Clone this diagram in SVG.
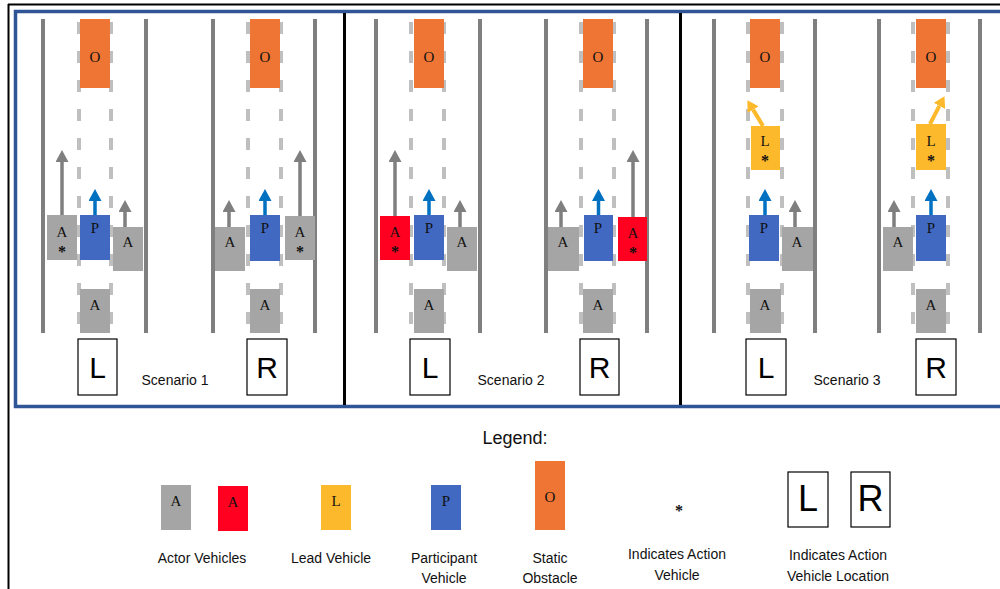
<svg xmlns="http://www.w3.org/2000/svg" width="1000" height="589" viewBox="0 0 1000 589">
<style>
.road{stroke:#7F7F7F;stroke-width:4}
.lane{stroke:#BFBFBF;stroke-width:4;stroke-dasharray:12 17}
.g{fill:#A5A5A5}
.r{fill:#FF0020}
.b{fill:#4169C1}
.o{fill:#EE7534}
.y{fill:#FDB92C}
.vt{font-family:"Liberation Serif",serif;font-size:15px;text-anchor:middle;fill:#111}
.st{font-family:"Liberation Serif",serif;font-size:16px;font-weight:bold;text-anchor:middle;fill:#111}
.ga{stroke:#7F7F7F;stroke-width:3.5;marker-end:url(#gh)}
.ba{stroke:#0070C0;stroke-width:3.5;marker-end:url(#bh)}
.ya{stroke:#FDB92C;stroke-width:4;marker-end:url(#yh)}
.box{fill:#fff;stroke:#000;stroke-width:1.2}
.big{font-family:"Liberation Sans",sans-serif;font-size:30px;text-anchor:middle;fill:#000}
.big2{font-family:"Liberation Sans",sans-serif;font-size:36px;text-anchor:middle;fill:#000}
.lbl{font-family:"Liberation Sans",sans-serif;font-size:14px;text-anchor:middle;fill:#111}
</style>
<defs>
<marker id="gh" markerUnits="userSpaceOnUse" markerWidth="12" markerHeight="13" refX="0" refY="6.5" orient="auto"><path d="M0,0 L12,6.5 L0,13 z" fill="#7F7F7F"/></marker>
<marker id="bh" markerUnits="userSpaceOnUse" markerWidth="12" markerHeight="13" refX="0" refY="6.5" orient="auto"><path d="M0,0 L12,6.5 L0,13 z" fill="#0070C0"/></marker>
<marker id="yh" markerUnits="userSpaceOnUse" markerWidth="11" markerHeight="13" refX="0" refY="6.5" orient="auto"><path d="M0,0 L11,6.5 L0,13 z" fill="#FDB92C"/></marker>
</defs>
<rect width="1000" height="589" fill="#fff"/>
<g id="frames">
<line x1="8" y1="4.5" x2="1000" y2="4.5" stroke="#000" stroke-width="2"/>
<line x1="8.5" y1="4" x2="8.5" y2="589" stroke="#000" stroke-width="2"/>
<rect x="15.5" y="11.5" width="1000" height="395" fill="none" stroke="#2F5597" stroke-width="3.5"/>
<line x1="344.5" y1="13" x2="344.5" y2="405" stroke="#000" stroke-width="3"/>
<line x1="680.5" y1="13" x2="680.5" y2="405" stroke="#000" stroke-width="3"/>
</g>
<g id="roads">
<path class="road" d="M43,19V333M146,19V333M213,19V333M315,19V333M376,19V333M480,19V333M546,19V333M647,19V333M714,19V333M815,19V333M879,19V333M980,19V333"/>
<path class="lane" d="M79,22V333M111,22V333M248,22V333M281,22V333M411,22V333M444,22V333M581,22V333M614,22V333M748,22V333M782,22V333M913,22V333M948,22V333"/>
</g>
<g id="s1-left">
<rect class="o" x="80" y="19" width="30" height="69"/><text class="vt" x="95" y="62">O</text>
<rect class="g" x="47" y="215" width="30" height="45"/><text class="vt" x="62" y="237">A</text><text class="st" x="62" y="257">*</text>
<rect class="b" x="80" y="215" width="30" height="45"/><text class="vt" x="95" y="233">P</text>
<rect class="g" x="113" y="227" width="30" height="44"/><text class="vt" x="128" y="247">A</text>
<rect class="g" x="80" y="289" width="30" height="44"/><text class="vt" x="95" y="310">A</text>
</g>
<g id="s1-right">
<rect class="o" x="250" y="19" width="30" height="69"/><text class="vt" x="265" y="62">O</text>
<rect class="g" x="215" y="227" width="30" height="44"/><text class="vt" x="230" y="247">A</text>
<rect class="b" x="250" y="215" width="30" height="46"/><text class="vt" x="265" y="233">P</text>
<rect class="g" x="285" y="216" width="30" height="44"/><text class="vt" x="300" y="237">A</text><text class="st" x="300" y="257">*</text>
<rect class="g" x="250" y="289" width="30" height="44"/><text class="vt" x="265" y="310">A</text>
</g>
<g id="s2-left">
<rect class="o" x="414" y="19" width="30" height="69"/><text class="vt" x="429" y="62">O</text>
<rect class="r" x="380" y="216" width="30" height="44"/><text class="vt" x="395" y="237">A</text><text class="st" x="395" y="257">*</text>
<rect class="b" x="414" y="215" width="30" height="45"/><text class="vt" x="429" y="233">P</text>
<rect class="g" x="447" y="227" width="30" height="44"/><text class="vt" x="462" y="247">A</text>
<rect class="g" x="414" y="289" width="30" height="44"/><text class="vt" x="429" y="310">A</text>
</g>
<g id="s2-right">
<rect class="o" x="583" y="19" width="30" height="69"/><text class="vt" x="598" y="62">O</text>
<rect class="g" x="548" y="227" width="31" height="44"/><text class="vt" x="563" y="247">A</text>
<rect class="b" x="584" y="215" width="29" height="46"/><text class="vt" x="598" y="233">P</text>
<rect class="r" x="618" y="217" width="29" height="44"/><text class="vt" x="633" y="238">A</text><text class="st" x="633" y="258">*</text>
<rect class="g" x="583" y="289" width="30" height="44"/><text class="vt" x="598" y="310">A</text>
</g>
<g id="s3-left">
<rect class="o" x="750" y="19" width="30" height="69"/><text class="vt" x="765" y="62">O</text>
<rect class="y" x="751" y="126" width="29" height="44"/><text class="vt" x="765" y="146">L</text><text class="st" x="765" y="166">*</text>
<rect class="b" x="749" y="215" width="30" height="46"/><text class="vt" x="764" y="233">P</text>
<rect class="g" x="782" y="227" width="31" height="44"/><text class="vt" x="797" y="247">A</text>
<rect class="g" x="750" y="289" width="31" height="44"/><text class="vt" x="765" y="310">A</text>
</g>
<g id="s3-right">
<rect class="o" x="916" y="19" width="30" height="69"/><text class="vt" x="931" y="62">O</text>
<rect class="y" x="916" y="124" width="30" height="46"/><text class="vt" x="931" y="146">L</text><text class="st" x="931" y="166">*</text>
<rect class="g" x="883" y="227" width="30" height="44"/><text class="vt" x="898" y="247">A</text>
<rect class="b" x="916" y="215" width="30" height="46"/><text class="vt" x="931" y="233">P</text>
<rect class="g" x="916" y="289" width="30" height="44"/><text class="vt" x="931" y="310">A</text>
</g>
<g id="connectors">
<line class="ga" x1="62" y1="215" x2="62" y2="162"/>
<line class="ba" x1="95" y1="215" x2="95" y2="201"/>
<line class="ga" x1="125" y1="227" x2="125" y2="212"/>
<line class="ga" x1="229" y1="227" x2="229" y2="212"/>
<line class="ba" x1="265" y1="215" x2="265" y2="201"/>
<line class="ga" x1="300" y1="216" x2="300" y2="162"/>
<line class="ga" x1="395" y1="216" x2="395" y2="162"/>
<line class="ba" x1="429" y1="215" x2="429" y2="201"/>
<line class="ga" x1="460" y1="227" x2="460" y2="212"/>
<line class="ga" x1="561" y1="227" x2="561" y2="212"/>
<line class="ba" x1="598.5" y1="215" x2="598.5" y2="201"/>
<line class="ga" x1="633" y1="217" x2="633" y2="162"/>
<line class="ya" x1="763" y1="126" x2="753.1" y2="109.6"/>
<line class="ba" x1="765" y1="215" x2="765" y2="201"/>
<line class="ga" x1="795" y1="227" x2="795" y2="212"/>
<line class="ya" x1="930" y1="124" x2="939.4" y2="105.9"/>
<line class="ga" x1="894" y1="227" x2="894" y2="212"/>
<line class="ba" x1="931" y1="215" x2="931" y2="201"/>
</g>
<g id="s1-labels">
<rect class="box" x="78" y="339" width="39" height="56"/><text class="big" x="97.5" y="378">L</text>
<rect class="box" x="247" y="339" width="40" height="56"/><text class="big" x="267" y="378">R</text>
<text class="lbl" x="175" y="385">Scenario 1</text>
</g>
<g id="s2-labels">
<rect class="box" x="410" y="339" width="40" height="56"/><text class="big" x="430" y="378">L</text>
<rect class="box" x="580" y="339" width="39" height="56"/><text class="big" x="599.5" y="378">R</text>
<text class="lbl" x="511" y="385">Scenario 2</text>
</g>
<g id="s3-labels">
<rect class="box" x="746" y="339" width="40" height="56"/><text class="big" x="766" y="378">L</text>
<rect class="box" x="916" y="339" width="40" height="56"/><text class="big" x="936" y="378">R</text>
<text class="lbl" x="847" y="385">Scenario 3</text>
</g>
<g id="legend">
<text x="515" y="444" font-family="Liberation Sans, sans-serif" font-size="18" text-anchor="middle" fill="#111">Legend:</text>
<g id="leg-actor">
<rect class="g" x="161" y="485" width="30" height="45"/><text class="vt" x="176" y="506">A</text>
<rect class="r" x="218" y="486" width="30" height="45"/><text class="vt" x="233" y="507">A</text>
<text class="lbl" x="202" y="563">Actor Vehicles</text>
</g>
<g id="leg-lead">
<rect class="y" x="321" y="485" width="30" height="45"/><text class="vt" x="336" y="506">L</text>
<text class="lbl" x="331" y="563">Lead Vehicle</text>
</g>
<g id="leg-participant">
<rect class="b" x="431" y="485" width="30" height="45"/><text class="vt" x="446" y="506">P</text>
<text class="lbl" x="444" y="563">Participant</text>
<text class="lbl" x="444" y="583">Vehicle</text>
</g>
<g id="leg-obstacle">
<rect class="o" x="535" y="461" width="30" height="69"/><text class="vt" x="550" y="502">O</text>
<text class="lbl" x="550" y="563">Static</text>
<text class="lbl" x="550" y="583">Obstacle</text>
</g>
<g id="leg-action">
<text class="st" x="679" y="516">*</text>
<text class="lbl" x="677" y="559">Indicates Action</text>
<text class="lbl" x="677" y="580">Vehicle</text>
</g>
<g id="leg-location">
<rect class="box" x="788" y="472" width="40" height="55"/><text class="big2" x="808" y="511">L</text>
<rect class="box" x="851" y="472" width="39" height="55"/><text class="big2" x="870.5" y="511">R</text>
<text class="lbl" x="838" y="560">Indicates Action</text>
<text class="lbl" x="838" y="581">Vehicle Location</text>
</g>
</g>
</svg>
